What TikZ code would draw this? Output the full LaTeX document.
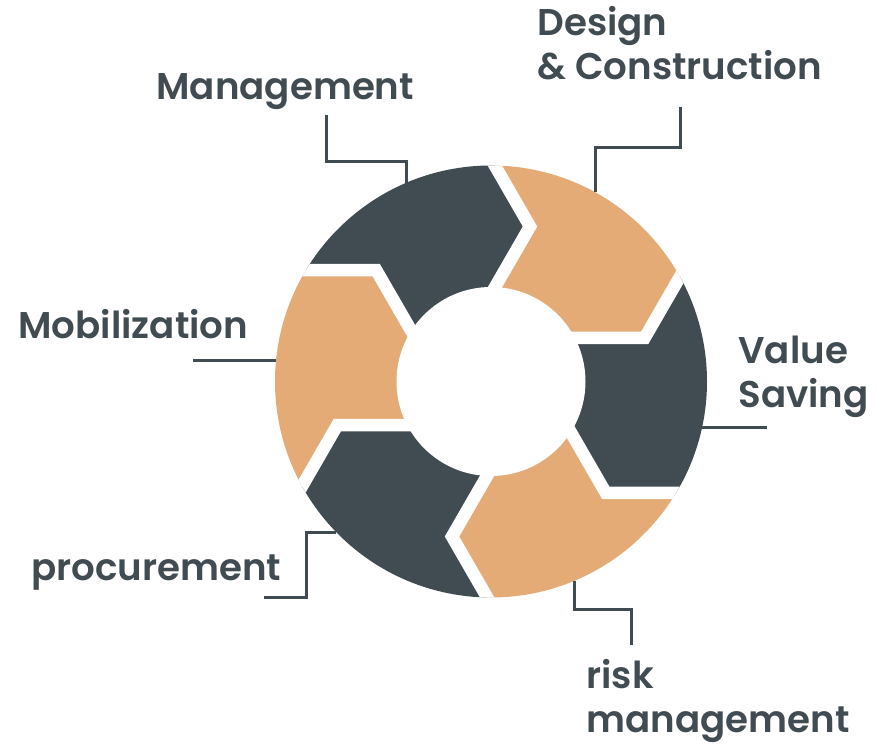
\documentclass[tikz,border=0pt]{standalone}
\usepackage{fontspec}
\setmainfont{Poppins}[BoldFont={* SemiBold}]
\usepackage{tikz}
\usetikzlibrary{calc,positioning}
\definecolor{slate}{HTML}{404C52}
\definecolor{sand}{HTML}{E4AB77}

\begin{document}
\begin{tikzpicture}[x=0.5pt, y=0.5pt,
  lbl/.style={font=\bfseries\fontsize{18.6}{22}\selectfont, text=slate, inner sep=0pt, anchor=base west, align=left},
  lead/.style={draw=slate, line width=1.5pt},
  gap/.style={draw=white, line width=6.25pt}]
\useasboundingbox (-491,-362.5) rectangle (386,381.5);

% chevron boundaries of the ring
\foreach \a [count=\i] in {90,30,-30,-90,-150,150} {
  \coordinate (t\i) at ($(\a:155)+(\a-90:39)$);
  \coordinate (o\i) at ($(t\i)+(\a+30:110)$);
  \coordinate (n\i) at ($(t\i)+(\a+150:100)$);
}

\begin{scope}
\clip (0,0) circle (216);
\foreach \a/\i/\j/\c in {90/1/2/sand,30/2/3/slate,-30/3/4/sand,-90/4/5/slate,-150/5/6/sand,150/6/1/slate}
  \fill [\c] (o\i) -- (t\i) -- (n\i) -- (n\j) -- (t\j) -- (o\j) -- (\a-60:320) -- (\a-30:340) -- (\a:320) -- cycle;
\foreach \i in {1,...,6}
  \draw [gap] (o\i) -- (t\i) -- (n\i);
\fill [white] (0,0) circle (94.5);
\end{scope}

% labels (base = baseline of last line)
\node (mgmt) at (-335,281.5) [lbl] {Management};
\node (design) at (46,301.5) [lbl] {Design\\\& Construction};
\node (value) at (247,-25.5) [lbl] {Value\\Saving};
\node (risk) at (95,-350.5) [lbl] {risk\\management};
\node (proc) at (-460,-198.5) [lbl] {procurement};
\node (mobil) at (-473,43.5) [lbl] {Mobilization};

\coordinate (mgmt-r) at (-85,198.6);
\coordinate (mgmt-e) at (-164,266.5);
\coordinate (design-r) at (104,189.3);
\coordinate (design-e) at (189,274.5);
\coordinate (value-r) at (211,-45.5);
\coordinate (value-e) at (276,-45.5);
\coordinate (risk-r) at (83,-199.4);
\coordinate (risk-e) at (140,-263.5);
\coordinate (proc-r) at (-155,-150.5);
\coordinate (proc-e) at (-227,-215.5);
\coordinate (mobil-r) at (-215,21.5);
\coordinate (mobil-e) at (-298,21.5);

\draw [lead] (mgmt-r) -- ++(0,21) -| (mgmt-e);
\draw [lead] (design-r) -- ++(0,44.2) -| (design-e);
\draw [lead] (value-r) -- (value-e);
\draw [lead] (risk-r) -- ++(0,-29) -| (risk-e);
\draw [lead] (proc-r) -- ++(-29,0) |- (proc-e);
\draw [lead] (mobil-r) -- (mobil-e);
\end{tikzpicture}
\end{document}
